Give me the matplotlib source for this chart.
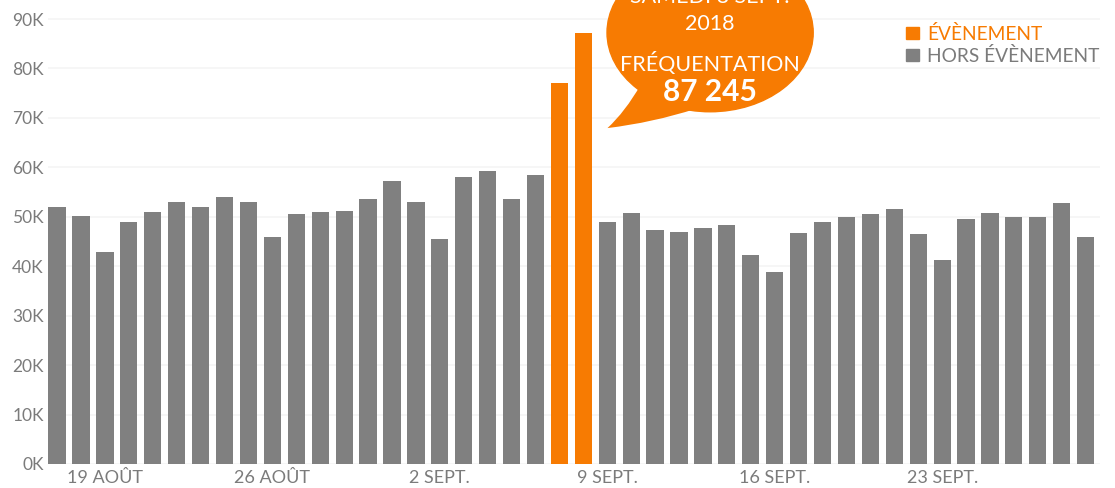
#
#	Daily attendance chart with the event days highlighted
#

# ----- Imports ----- #
import matplotlib.pyplot as plt
from matplotlib.patches import Ellipse, PathPatch, Rectangle
from matplotlib.path import Path

# ----- Data ----- #

# Daily attendance from 17 Aug 2018 to 29 Sept 2018
attendance = [
	51900, 50100, 42800, 48900, 50900, 52900, 51900, 54000, 53000, 45900,
	50500, 50900, 51200, 53500, 57200, 52900, 45500, 58100, 59300, 53700,
	58400, 77100, 87245, 49000, 50800, 47300, 46900, 47700, 48400, 42200,
	38800, 46800, 48900, 49900, 50500, 51500, 46500, 41200, 49600, 50800,
	50000, 50000, 52800, 45900,
]
# Index of the event days (7 and 8 Sept.)
event_days = [21, 22]

# Tick labels (one every 7 days, starting 19 Aug.)
tick_idx = [2, 9, 16, 23, 30, 37]
tick_labels = ["19 AOÛT", "26 AOÛT", "2 SEPT.", "9 SEPT.", "16 SEPT.", "23 SEPT."]
y_ticks = [0, 10000, 20000, 30000, 40000, 50000, 60000, 70000, 80000, 90000]

legend_labels = ["ÉVÈNEMENT", "HORS ÉVÈNEMENT"]
bubble_lines = ["SAMEDI 8 SEPT.", "2018", "FRÉQUENTATION"]

# ----- Style ----- #
ORANGE = "#F77B02"
GREY = "#808080"
TEXT_GREY = "#7b7b7b"
W, H = 1115, 488

plt.rcParams["font.family"] = ["Lato", "DejaVu Sans"]


def px(x, y):
	"""Pixel position (from top left) to figure fraction"""
	return x / W, 1 - y / H


# ----- Plot ----- #
fig = plt.figure(figsize=(W / 100, H / 100), dpi=100)
ax = fig.add_axes([48 / W, 24 / H, 1052 / W, 464 / H])

x = list(range(len(attendance)))
colors = [ORANGE if i in event_days else GREY for i in x]
ax.bar(x, attendance, width=0.72, color=colors, zorder=2)

ax.set_xlim(-0.38, 43.6)
ax.set_ylim(0, 93850)

# Axis styling
for s in ax.spines.values():
	s.set_visible(False)
ax.set_yticks(y_ticks)
ax.set_yticklabels([f"{v // 1000}K" for v in y_ticks])
ax.set_xticks(tick_idx)
ax.set_xticklabels(tick_labels)
ax.tick_params(axis="y", length=0, pad=3, labelsize=12.5, labelcolor=TEXT_GREY)
ax.tick_params(axis="x", length=0, pad=4, labelsize=13, labelcolor=TEXT_GREY)
ax.grid(axis="y", color="#f5f5f5", linewidth=1.2, zorder=0)

# ----- Speech bubble ----- #
peak_i = attendance.index(max(attendance))
peak = attendance[peak_i]
cx, cy = peak_i + 5.3, peak

bubble = Ellipse((cx, cy), 8.62, 32000, color=ORANGE, zorder=5, clip_on=False)
ax.add_patch(bubble)

tail_verts = [
	(peak_i + 2.39, peak - 10600),
	(peak_i + 1.75, peak - 16000),
	(peak_i + 1.01, peak - 19300),
	(peak_i + 2.9, peak - 18200),
	(peak_i + 4.7, peak - 15400),
	(peak_i + 4.0, peak - 7200),
	(peak_i + 2.39, peak - 10600),
]
tail_codes = [Path.MOVETO, Path.CURVE3, Path.CURVE3, Path.CURVE3, Path.CURVE3,
			  Path.LINETO, Path.CLOSEPOLY]
ax.add_patch(PathPatch(Path(tail_verts, tail_codes), color=ORANGE, lw=0, zorder=5, clip_on=False))

# The first line sits partly above the top of the picture, as in the original
ax.text(cx, peak + 6000, bubble_lines[0], ha="center", va="baseline", color="white",
		fontsize=15.5, zorder=6, clip_on=False)
ax.text(cx, peak + 500, bubble_lines[1], ha="center", va="baseline", color="white",
		fontsize=15.5, zorder=6)
ax.text(cx, peak - 7800, bubble_lines[2], ha="center", va="baseline", color="white",
		fontsize=15.5, zorder=6)
ax.text(cx, peak - 13750, f"{peak:,}".replace(",", " "), ha="center", va="baseline",
		color="white", fontsize=21.5, fontweight="bold", zorder=6)

# ----- Legend ----- #
for i, (lab, col) in enumerate(zip(legend_labels, [ORANGE, GREY])):
	y = 27 + i * 22
	fig.patches.append(Rectangle(px(906, y + 12), 13 / W, 12 / H, color=col,
								 transform=fig.transFigure, figure=fig))
	fig.text(*px(927, y + 12.5), lab, color=col if i == 0 else TEXT_GREY,
			 fontsize=13.8, va="baseline", ha="left")

fig.savefig("out.png", dpi=100)
